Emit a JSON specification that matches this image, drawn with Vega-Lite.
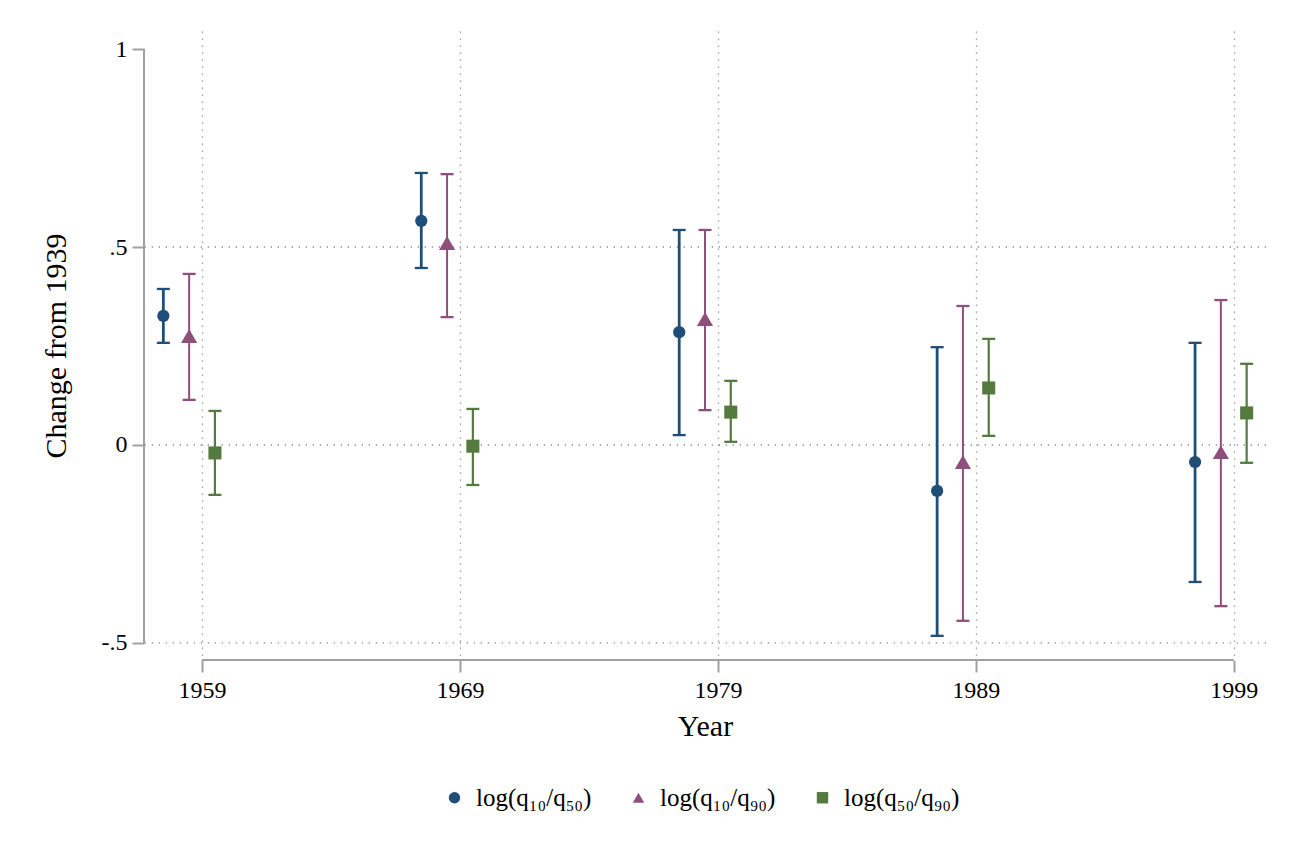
{
  "$schema": "https://vega.github.io/schema/vega-lite/v6.json",
  "description": "Change in log quantile ratios from 1939, with confidence intervals",
  "width": 1122,
  "height": 629,
  "autosize": {"type": "none"},
  "padding": {"left": 144, "top": 31, "right": 30, "bottom": 205},
  "background": "white",
  "config": {
    "view": {"stroke": null},
    "font": "Liberation Serif",
    "axis": {
      "labelFont": "Liberation Serif",
      "titleFont": "Liberation Serif",
      "labelColor": "black",
      "titleColor": "black",
      "titleFontWeight": "normal",
      "labelFontSize": 24,
      "titleFontSize": 30,
      "tickColor": "#a0a0a0",
      "tickWidth": 2,
      "tickSize": 12,
      "domain": false
    },
    "legend": {
      "labelFont": "Liberation Serif",
      "labelColor": "black",
      "labelFontSize": 25
    }
  },
  "resolve": {
    "axis": {"x": "independent", "y": "independent"},
    "legend": {"color": "independent", "shape": "independent"}
  },
  "datasets": {
    "est": [
      {"pos": 1957.5, "series": "log(q₁₀/q₅₀)", "est": 0.326, "lo": 0.258, "hi": 0.394},
      {"pos": 1958.5, "series": "log(q₁₀/q₉₀)", "est": 0.275, "lo": 0.114, "hi": 0.432},
      {"pos": 1959.5, "series": "log(q₅₀/q₉₀)", "est": -0.020, "lo": -0.126, "hi": 0.086},
      {"pos": 1967.5, "series": "log(q₁₀/q₅₀)", "est": 0.566, "lo": 0.447, "hi": 0.687},
      {"pos": 1968.5, "series": "log(q₁₀/q₉₀)", "est": 0.510, "lo": 0.323, "hi": 0.684},
      {"pos": 1969.5, "series": "log(q₅₀/q₉₀)", "est": -0.003, "lo": -0.101, "hi": 0.091},
      {"pos": 1977.5, "series": "log(q₁₀/q₅₀)", "est": 0.285, "lo": 0.025, "hi": 0.543},
      {"pos": 1978.5, "series": "log(q₁₀/q₉₀)", "est": 0.318, "lo": 0.088, "hi": 0.543},
      {"pos": 1979.5, "series": "log(q₅₀/q₉₀)", "est": 0.083, "lo": 0.008, "hi": 0.162},
      {"pos": 1987.5, "series": "log(q₁₀/q₅₀)", "est": -0.116, "lo": -0.482, "hi": 0.247},
      {"pos": 1988.5, "series": "log(q₁₀/q₉₀)", "est": -0.043, "lo": -0.444, "hi": 0.351},
      {"pos": 1989.5, "series": "log(q₅₀/q₉₀)", "est": 0.144, "lo": 0.023, "hi": 0.268},
      {"pos": 1997.5, "series": "log(q₁₀/q₅₀)", "est": -0.043, "lo": -0.346, "hi": 0.258},
      {"pos": 1998.5, "series": "log(q₁₀/q₉₀)", "est": -0.018, "lo": -0.407, "hi": 0.366},
      {"pos": 1999.5, "series": "log(q₅₀/q₉₀)", "est": 0.081, "lo": -0.045, "hi": 0.205}
    ],
    "ygrid": [{"v": -0.5}, {"v": 0}, {"v": 0.5}],
    "yline": [{"lo": -0.5, "hi": 1}],
    "xline": [{"a": 1959, "b": 1999}]
  },
  "layer": [
    {
      "data": {"name": "ygrid"},
      "mark": {"type": "rule", "color": "#8c8c8c", "strokeWidth": 1.3, "strokeDash": [1.3, 5.7]},
      "encoding": {
        "y": {"field": "v", "type": "quantitative", "axis": null,
              "scale": {"domain": [-0.543, 1.0455], "nice": false, "zero": false}}
      }
    },
    {
      "data": {"name": "yline"},
      "mark": {"type": "rule", "color": "#a0a0a0", "strokeWidth": 2},
      "encoding": {
        "x": {"value": 0},
        "y": {"field": "lo", "type": "quantitative", "axis": null,
              "scale": {"domain": [-0.543, 1.0455], "nice": false, "zero": false}},
        "y2": {"field": "hi"}
      }
    },
    {
      "data": {"name": "xline"},
      "mark": {"type": "rule", "color": "#a0a0a0", "strokeWidth": 2},
      "encoding": {
        "x": {"field": "a", "type": "quantitative", "axis": null,
              "scale": {"domain": [1956.75, 2000.25], "nice": false, "zero": false}},
        "x2": {"field": "b"},
        "y": {"datum": -0.543, "type": "quantitative", "axis": null,
              "scale": {"domain": [-0.543, 1.0455], "nice": false, "zero": false}}
      }
    },
    {
      "data": {"name": "est"},
      "mark": {"type": "rule"},
      "encoding": {
        "x": {
          "field": "pos", "type": "quantitative",
          "scale": {"domain": [1956.75, 2000.25], "nice": false, "zero": false},
          "axis": {
            "orient": "bottom",
            "title": "Year",
            "values": [1959, 1969, 1979, 1989, 1999],
            "format": "d",
            "grid": true,
            "gridColor": "#8c8c8c",
            "gridWidth": 1.3,
            "gridDash": [1.3, 5.7],
            "labelPadding": 6,
            "titlePadding": 9
          }
        },
        "y": {
          "field": "lo", "type": "quantitative",
          "scale": {"domain": [-0.543, 1.0455], "nice": false, "zero": false},
          "axis": {
            "orient": "left",
            "title": "Change from 1939",
            "values": [-0.5, 0, 0.5, 1],
            "labelExpr": "datum.value == 0.5 ? '.5' : datum.value == -0.5 ? '-.5' : datum.value == 1 ? '1' : '0'",
            "grid": false,
            "labelPadding": 5,
            "titlePadding": 30
          }
        },
        "y2": {"field": "hi"},
        "color": {
          "field": "series", "type": "nominal", "legend": null,
          "scale": {"domain": ["log(q₁₀/q₅₀)", "log(q₁₀/q₉₀)", "log(q₅₀/q₉₀)"],
                    "range": ["#1f4e79", "#8e4f7a", "#557a40"]}
        },
        "strokeWidth": {
          "field": "series", "type": "nominal", "legend": null,
          "scale": {"type": "ordinal",
                    "domain": ["log(q₁₀/q₅₀)", "log(q₁₀/q₉₀)", "log(q₅₀/q₉₀)"],
                    "range": [2.8, 2, 2.2]}
        }
      }
    },
    {
      "data": {"name": "est"},
      "mark": {"type": "tick", "orient": "horizontal", "size": 13, "thickness": 2.3, "opacity": 1},
      "encoding": {
        "x": {"field": "pos", "type": "quantitative", "axis": null,
              "scale": {"domain": [1956.75, 2000.25], "nice": false, "zero": false}},
        "y": {"field": "lo", "type": "quantitative", "axis": null,
              "scale": {"domain": [-0.543, 1.0455], "nice": false, "zero": false}},
        "color": {"field": "series", "type": "nominal", "legend": null}
      }
    },
    {
      "data": {"name": "est"},
      "mark": {"type": "tick", "orient": "horizontal", "size": 13, "thickness": 2.3, "opacity": 1},
      "encoding": {
        "x": {"field": "pos", "type": "quantitative", "axis": null,
              "scale": {"domain": [1956.75, 2000.25], "nice": false, "zero": false}},
        "y": {"field": "hi", "type": "quantitative", "axis": null,
              "scale": {"domain": [-0.543, 1.0455], "nice": false, "zero": false}},
        "color": {"field": "series", "type": "nominal", "legend": null}
      }
    },
    {
      "data": {"name": "est"},
      "mark": {"type": "point", "filled": true, "opacity": 1, "strokeWidth": 0},
      "encoding": {
        "x": {"field": "pos", "type": "quantitative", "axis": null,
              "scale": {"domain": [1956.75, 2000.25], "nice": false, "zero": false}},
        "y": {"field": "est", "type": "quantitative", "axis": null,
              "scale": {"domain": [-0.543, 1.0455], "nice": false, "zero": false}},
        "size": {
          "field": "series", "type": "nominal", "legend": null,
          "scale": {"type": "ordinal",
                    "domain": ["log(q₁₀/q₅₀)", "log(q₁₀/q₉₀)", "log(q₅₀/q₉₀)"],
                    "range": [150, 260, 170]}
        },
        "color": {
          "field": "series", "type": "nominal", "title": null,
          "legend": {
            "orient": "none", "legendX": 298, "legendY": 754,
            "direction": "horizontal", "padding": 0,
            "symbolSize": 130, "symbolStrokeWidth": 0,
            "labelOffset": 9, "columnPadding": 34
          }
        },
        "shape": {
          "field": "series", "type": "nominal", "title": null,
          "scale": {"domain": ["log(q₁₀/q₅₀)", "log(q₁₀/q₉₀)", "log(q₅₀/q₉₀)"],
                    "range": ["circle", "triangle-up", "square"]},
          "legend": {
            "orient": "none", "legendX": 298, "legendY": 754,
            "direction": "horizontal", "padding": 0,
            "symbolSize": 130, "symbolStrokeWidth": 0,
            "labelOffset": 9, "columnPadding": 34
          }
        }
      }
    }
  ]
}
